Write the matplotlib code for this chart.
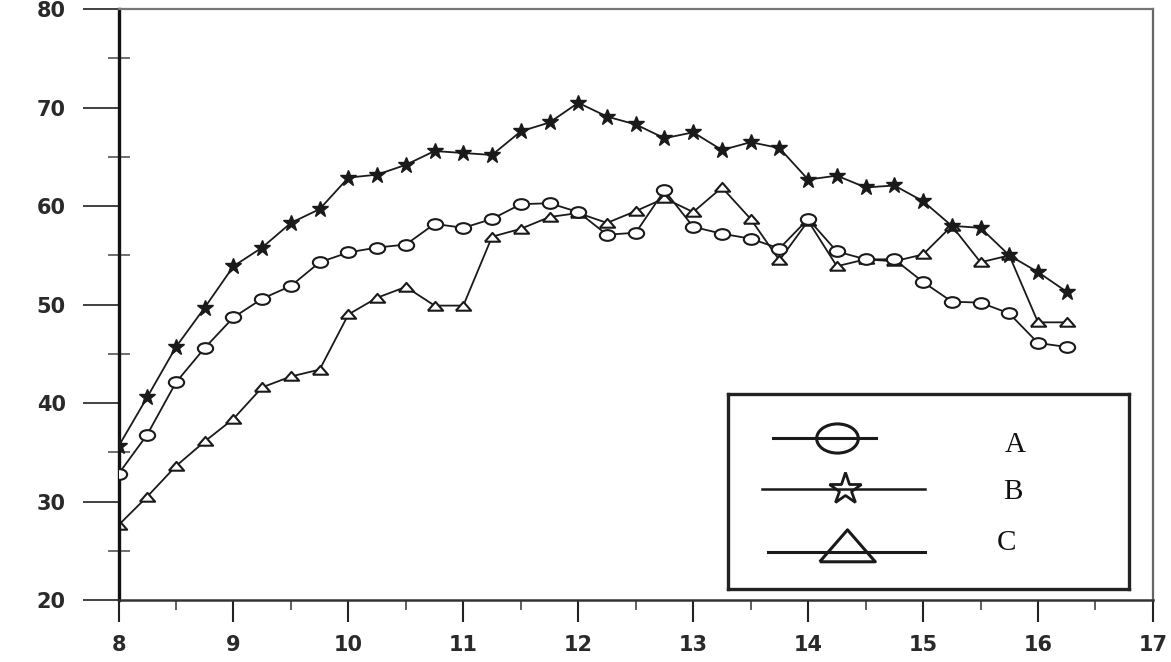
import numpy as np
import matplotlib
matplotlib.use("Agg")
import matplotlib.pyplot as plt
from matplotlib.path import Path
from matplotlib.transforms import Affine2D
from matplotlib.ticker import MultipleLocator

# x positions (hours), one reading every quarter hour
hours = [8.0, 8.25, 8.5, 8.75, 9.0, 9.25, 9.5, 9.75,
         10.0, 10.25, 10.5, 10.75, 11.0, 11.25, 11.5, 11.75,
         12.0, 12.25, 12.5, 12.75, 13.0, 13.25, 13.5, 13.75,
         14.0, 14.25, 14.5, 14.75, 15.0, 15.25, 15.5, 15.75,
         16.0, 16.25]

series_a = [32.8, 36.8, 42.1, 45.6, 48.7, 50.6, 51.9, 54.3,
            55.3, 55.8, 56.1, 58.2, 57.8, 58.7, 60.2, 60.3,
            59.4, 57.1, 57.3, 61.6, 57.9, 57.2, 56.7, 55.7,
            58.7, 55.4, 54.6, 54.6, 52.3, 50.3, 50.2, 49.1,
            46.1, 45.7]

series_b = [35.6, 40.6, 45.7, 49.7, 53.9, 55.8, 58.3, 59.7,
            62.9, 63.2, 64.2, 65.6, 65.4, 65.2, 67.6, 68.5,
            70.5, 69.1, 68.3, 66.9, 67.5, 65.7, 66.5, 65.9,
            62.7, 63.1, 61.9, 62.1, 60.5, 58.0, 57.8, 55.0,
            53.3, 51.3]

series_c = [27.6, 30.5, 33.6, 36.1, 38.4, 41.6, 42.7, 43.4,
            49.0, 50.7, 51.8, 49.9, 49.9, 56.9, 57.7, 58.9,
            59.3, 58.3, 59.5, 60.8, 59.4, 61.9, 58.7, 54.5,
            58.5, 53.9, 54.6, 54.4, 55.1, 58.0, 54.3, 55.0,
            48.2, 48.2]

labels = ["A", "B", "C"]

# squashed markers, the scan is stretched sideways
ellipse = Path.unit_circle().transformed(Affine2D().scale(1.0, 0.7))
flat_tri = [(-1.0, -0.55), (1.0, -0.55), (0.0, 0.6), (-1.0, -0.55)]

ink = "#1a1a1a"

fig = plt.figure(figsize=(11.71, 6.62), dpi=100)
ax = fig.add_axes([0.1012, 0.0937, 0.8834, 0.8923])

ax.plot(hours, series_a, color=ink, lw=1.3, marker=ellipse, ms=11,
        mfc="white", mec=ink, mew=1.5, zorder=3)
ax.plot(hours, series_b, color=ink, lw=1.3, marker="*", ms=12,
        mfc=ink, mec=ink, zorder=3)
ax.plot(hours, series_c, color=ink, lw=1.3, marker=flat_tri, ms=11,
        mfc="white", mec=ink, mew=1.5, zorder=2)

ax.set_xlim(8, 17)
ax.set_ylim(20, 80)
ax.xaxis.set_major_locator(MultipleLocator(1))
ax.xaxis.set_minor_locator(MultipleLocator(0.5))
ax.yaxis.set_major_locator(MultipleLocator(10))
ax.yaxis.set_minor_locator(MultipleLocator(5))

ax.tick_params(axis="y", which="major", direction="out", length=26,
               width=1.3, color="#333333", pad=12)
ax.tick_params(axis="y", which="minor", direction="inout", length=16,
               width=1.2, color="#555555")
ax.tick_params(axis="x", which="major", direction="out", length=16,
               width=1.5, color="#222222", pad=9)
ax.tick_params(axis="x", which="minor", direction="out", length=7,
               width=1.2, color="#444444")
for lab in ax.get_xticklabels() + ax.get_yticklabels():
    lab.set_fontweight("bold")
    lab.set_fontsize(15)
    lab.set_color("#2a2a2a")

ax.spines["left"].set_linewidth(2.4)
ax.spines["left"].set_color("#111111")
ax.spines["bottom"].set_linewidth(1.8)
ax.spines["bottom"].set_color("#333333")
ax.spines["top"].set_linewidth(1.6)
ax.spines["top"].set_color("#777777")
ax.spines["right"].set_linewidth(1.6)
ax.spines["right"].set_color("#666666")

# hand drawn legend box, lower right
lg = fig.add_axes([728 / 1171, (662 - 589) / 662, 401 / 1171, 195 / 662])
lg.set_xlim(0, 401)
lg.set_ylim(195, 0)
lg.set_xticks([])
lg.set_yticks([])
for s in lg.spines.values():
    s.set_linewidth(2.4)
    s.set_color("#222222")

lg.plot([45, 148], [44, 44], color=ink, lw=2.2)
lg.plot([109], [44], marker=ellipse, ms=30, mfc="none", mec=ink, mew=2.2)
lg.plot([34, 197], [95, 95], color=ink, lw=1.8)
lg.plot([117], [95], marker="*", ms=24, mfc="none", mec=ink, mew=2.0)
lg.plot([40, 197], [158, 158], color=ink, lw=2.2)
lg.plot([119], [152], marker=flat_tri, ms=40, mfc="none", mec=ink, mew=2.2)

for lbl, tx, ty in zip(labels, [287, 285, 279], [51, 98, 149]):
    lg.text(tx, ty, lbl, fontsize=21, family="Liberation Serif",
            color="#111111", ha="center", va="center")

fig.savefig("out.png", dpi=100)
